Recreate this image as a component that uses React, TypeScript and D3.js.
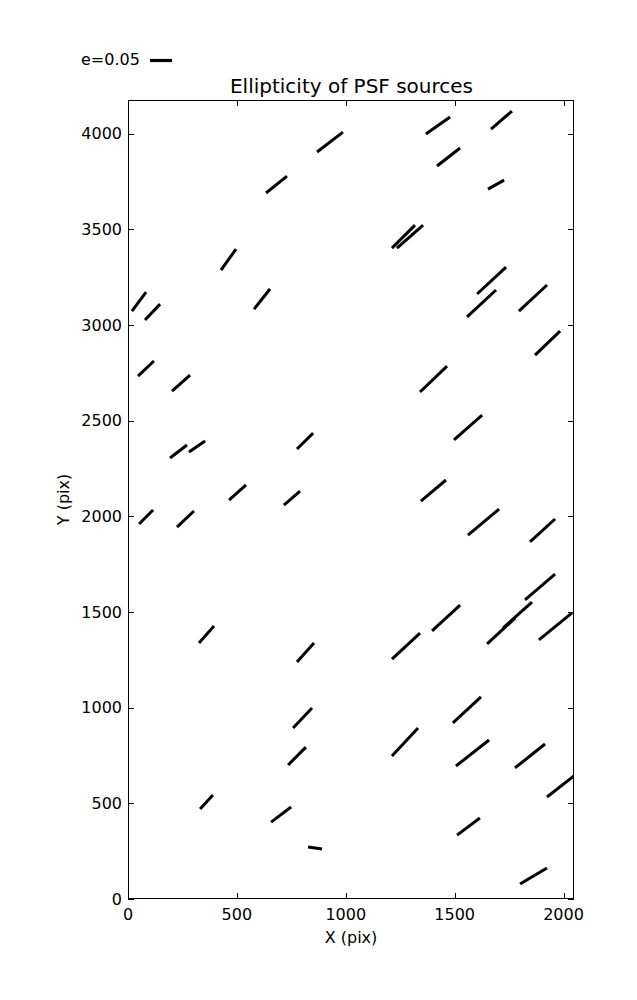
import React from "react";
import * as d3 from "d3";

// Whisker endpoints in CCD pixel coordinates (start x/y, end x/y)
const startX = [868, 1368, 1667, 634, 1419, 1653, 427, 1212, 1235, 579, 1603, 1557, 1795, 18, 78, 1869, 46, 202, 1341, 1497, 193, 280, 776, 1345, 464, 716, 51, 225, 1561, 1846, 1823, 326, 776, 1396, 1649, 1722, 1887, 1212, 758, 1492, 1212, 735, 1506, 1777, 1924, 331, 657, 1511, 827, 1800];
const startY = [3904, 3998, 4024, 3690, 3831, 3710, 3287, 3402, 3402, 3083, 3162, 3042, 3073, 3073, 3026, 2843, 2733, 2655, 2650, 2399, 2305, 2336, 2352, 2080, 2085, 2059, 1960, 1944, 1902, 1866, 1563, 1338, 1239, 1401, 1333, 1416, 1354, 1254, 894, 920, 747, 700, 695, 685, 533, 470, 402, 334, 272, 78];
const endX = [987, 1479, 1763, 730, 1525, 1727, 496, 1318, 1355, 652, 1736, 1690, 1924, 83, 147, 1984, 119, 285, 1465, 1626, 271, 354, 850, 1460, 542, 790, 115, 303, 1704, 1961, 1961, 395, 854, 1525, 1777, 1855, 2039, 1341, 845, 1621, 1332, 817, 1658, 1915, 2053, 390, 749, 1616, 891, 1924];
const endY = [4008, 4087, 4118, 3778, 3925, 3757, 3397, 3522, 3522, 3188, 3303, 3183, 3209, 3172, 3109, 2968, 2812, 2738, 2785, 2529, 2373, 2394, 2435, 2190, 2164, 2132, 2033, 2028, 2038, 1986, 1698, 1427, 1338, 1536, 1468, 1552, 1495, 1390, 998, 1056, 894, 794, 831, 810, 648, 544, 481, 423, 261, 162];

const xTicks = [0, 500, 1000, 1500, 2000];
const yTicks = [0, 500, 1000, 1500, 2000, 2500, 3000, 3500, 4000];
const xDomain = [0, 2048];
const yDomain = [0, 4176];
const legendE = 0.05;
const pxPerE = 440;

const FONT = "DejaVu Sans, sans-serif";

export default function App() {
  const L = 128, R = 574, T = 100, B = 899;
  const x = d3.scaleLinear().domain(xDomain).range([L, R]);
  const y = d3.scaleLinear().domain(yDomain).range([B, T]);
  const tl = 6;
  const segs = startX.map((_, i) => ({ x0: startX[i], y0: startY[i], x1: endX[i], y1: endY[i] }));
  return (
    <svg width={637} height={1000} style={{ position: "absolute", left: 0, top: 0, background: "#fff" }} fontFamily={FONT}>
      <defs>
        <clipPath id="plotclip">
          <rect x={L} y={T} width={R - L} height={B - T} />
        </clipPath>
      </defs>
      <rect x={0} y={0} width={637} height={1000} fill="#fff" />
      {/* legend */}
      <text x={81} y={65} fontSize={16} fill="#000">e=0.05</text>
      <line x1={150} x2={150 + legendE * pxPerE} y1={60.5} y2={60.5} stroke="#000" strokeWidth={3.2} />
      {/* title */}
      <text x={(L + R) / 2 + 0.5} y={93} fontSize={20} textAnchor="middle" fill="#000">Ellipticity of PSF sources</text>
      {/* whiskers */}
      <g clipPath="url(#plotclip)">
        {segs.map((s, i) => (
          <line key={i} x1={x(s.x0)} y1={y(s.y0)} x2={x(s.x1)} y2={y(s.y1)} stroke="#000" strokeWidth={3} strokeLinecap="butt" />
        ))}
      </g>
      {/* frame */}
      <rect x={L + 0.5} y={T + 0.5} width={R - L - 1} height={B - T - 1} fill="none" stroke="#000" strokeWidth={1} />
      {/* x ticks */}
      {xTicks.map((t) => (
        <g key={"x" + t}>
          <line x1={Math.round(x(t)) + 0.5} x2={Math.round(x(t)) + 0.5} y1={B} y2={B - tl} stroke="#000" />
          <line x1={Math.round(x(t)) + 0.5} x2={Math.round(x(t)) + 0.5} y1={T} y2={T + tl} stroke="#000" />
          <text x={x(t)} y={920} fontSize={16} textAnchor="middle" fill="#000">{t}</text>
        </g>
      ))}
      {yTicks.map((t) => (
        <g key={"y" + t}>
          <line x1={L} x2={L + tl} y1={Math.round(y(t)) + 0.5} y2={Math.round(y(t)) + 0.5} stroke="#000" />
          <line x1={R} x2={R - tl} y1={Math.round(y(t)) + 0.5} y2={Math.round(y(t)) + 0.5} stroke="#000" />
          <text x={122} y={y(t)} dy="0.36em" fontSize={16} textAnchor="end" fill="#000">{t}</text>
        </g>
      ))}
      <text x={(L + R) / 2} y={943} fontSize={16} textAnchor="middle" fill="#000">X (pix)</text>
      <text transform={`translate(69,${(T + B) / 2}) rotate(-90)`} fontSize={16} textAnchor="middle" fill="#000">Y (pix)</text>
    </svg>
  );
}
